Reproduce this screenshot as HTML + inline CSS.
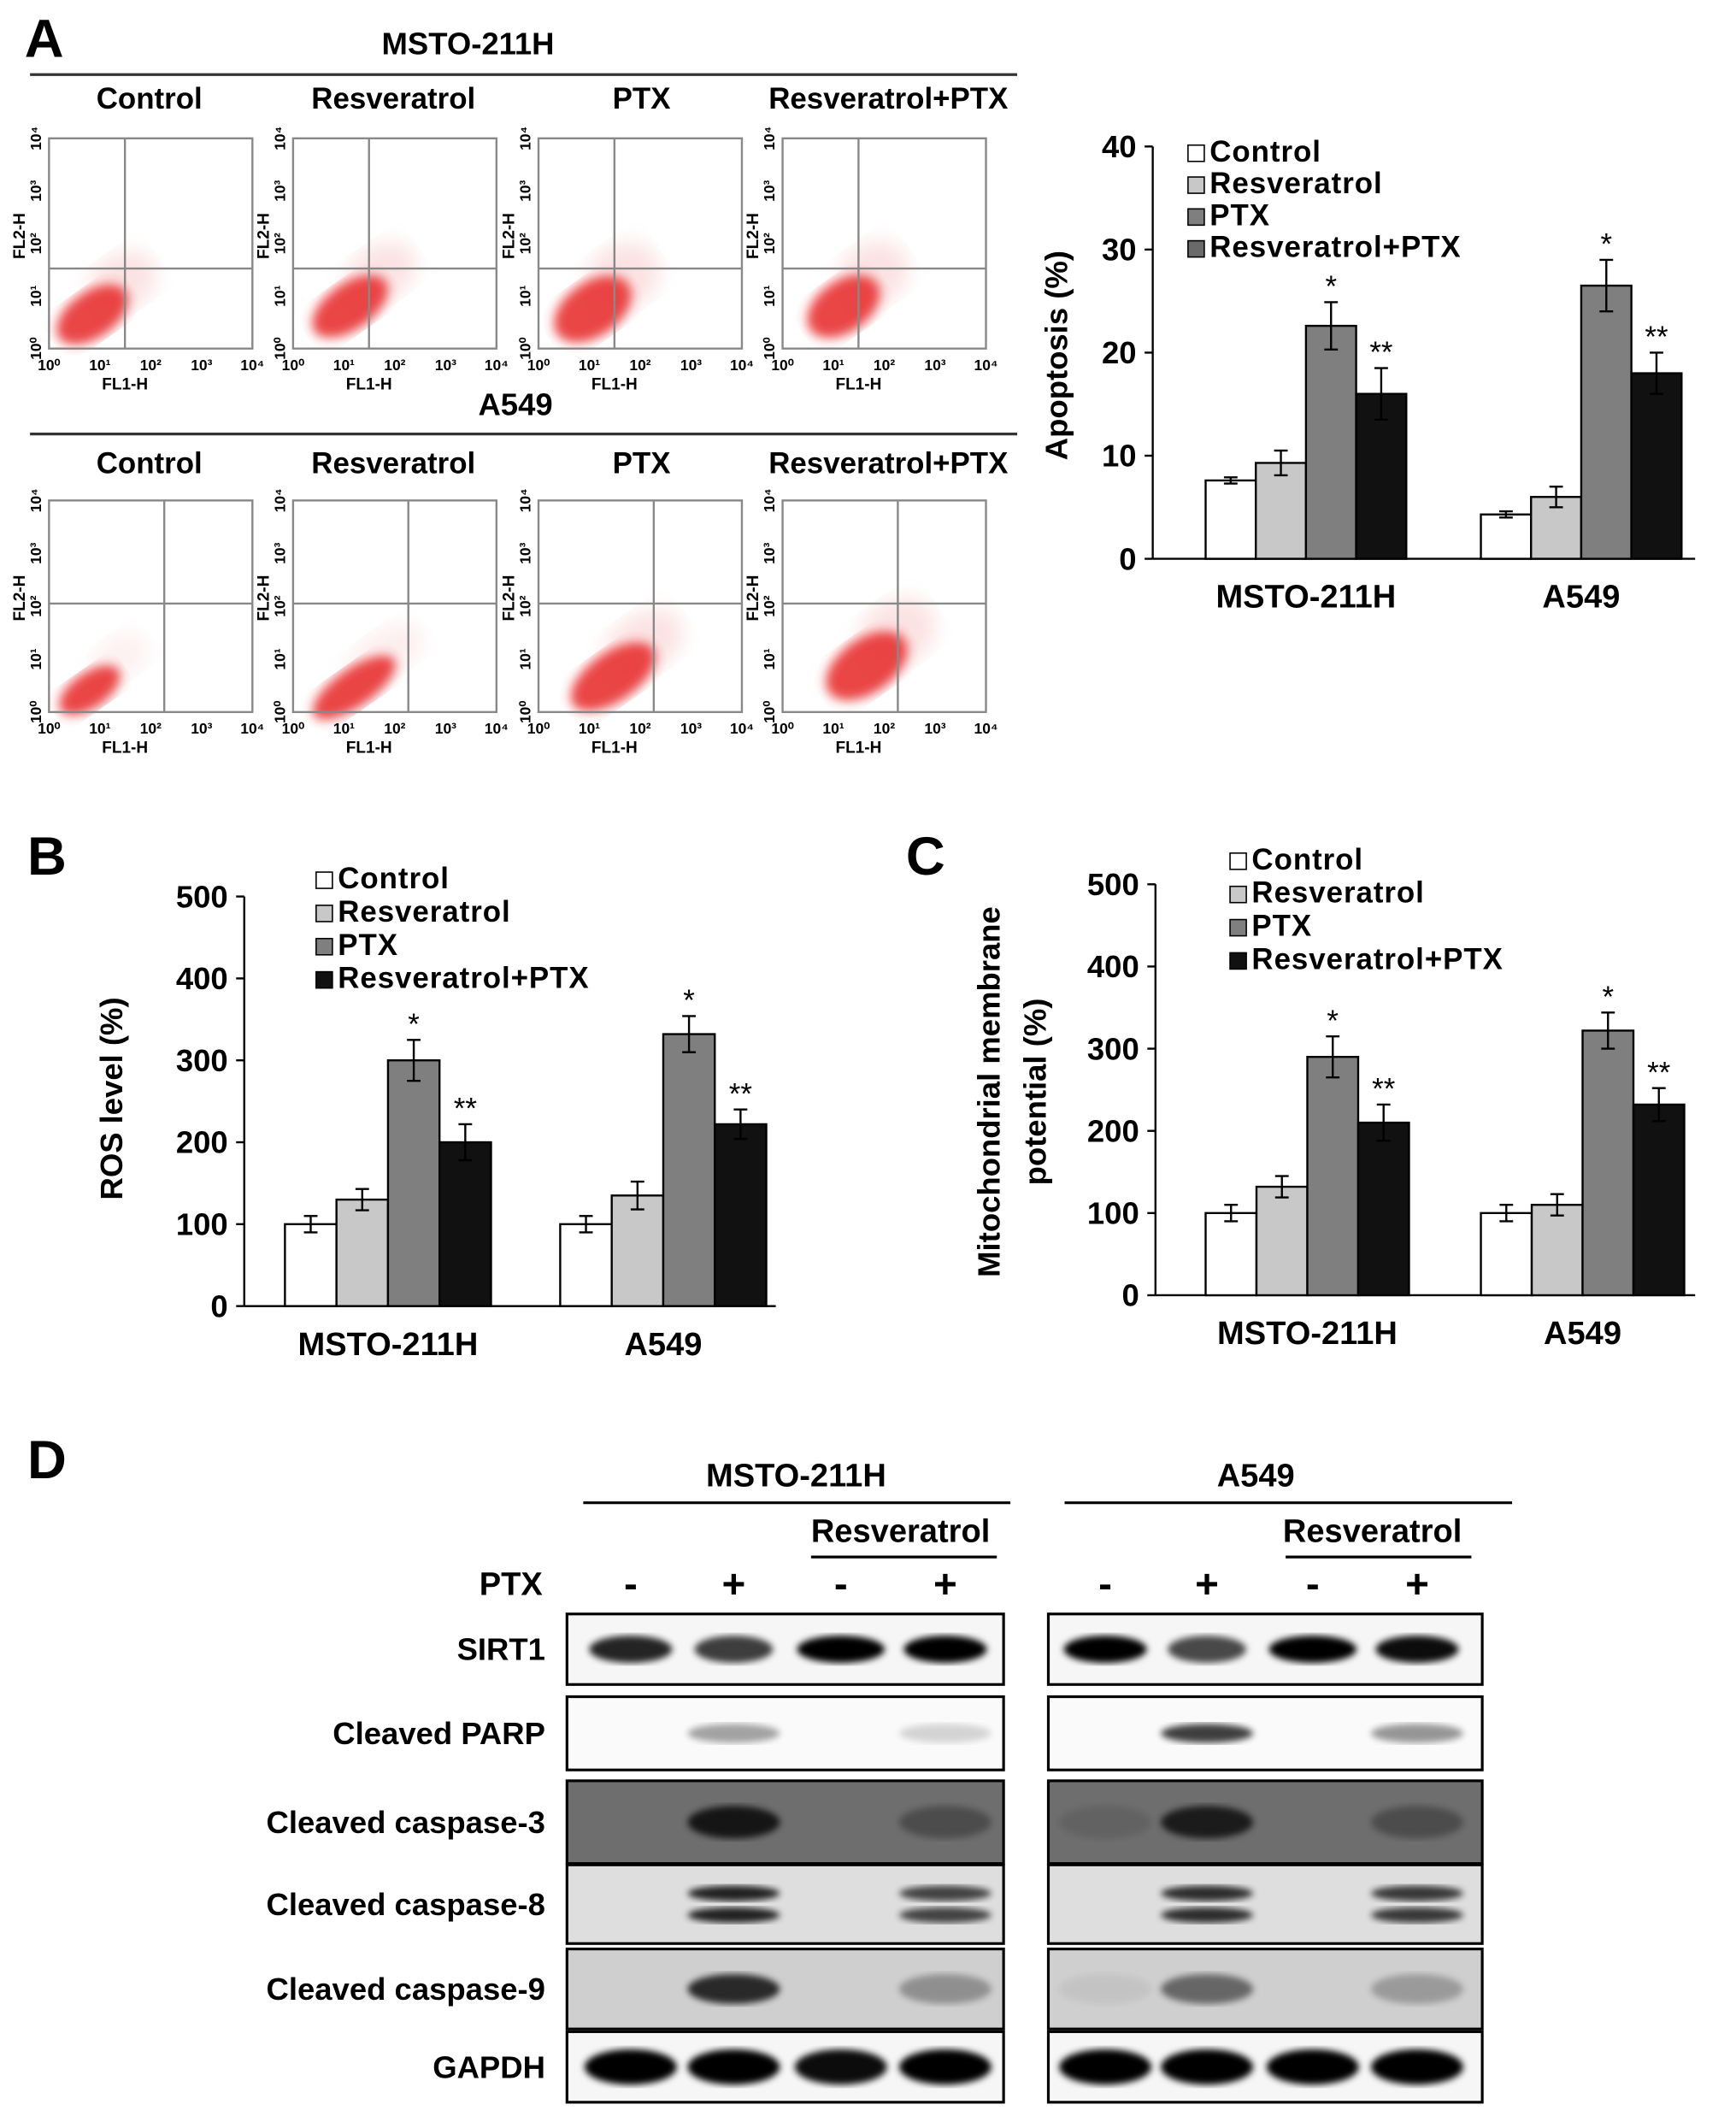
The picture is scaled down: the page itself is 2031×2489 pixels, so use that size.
<!DOCTYPE html>
<html><head><meta charset="utf-8"><style>
html,body{margin:0;padding:0;background:#fff}
svg{display:block}
text{font-family:"Liberation Sans",Arial,sans-serif}
</style></head><body>
<svg id="fig" width="2031" height="2489" viewBox="0 0 1280 1569" xmlns="http://www.w3.org/2000/svg">
<defs>
<filter id="bl2"><feGaussianBlur stdDeviation="2.5"/></filter>
<filter id="bl4"><feGaussianBlur stdDeviation="4"/></filter>
<filter id="bl8"><feGaussianBlur stdDeviation="7"/></filter>
</defs>
<g id="panelA"></g>
<g id="chartA"></g>
<g id="chartB"></g>
<g id="chartC"></g>
<g id="panelD"></g>
</svg>
<script>
// ---- Chart data ----
const groups = ["MSTO-211H", "A549"];
const seriesNames = ["Control", "Resveratrol", "PTX", "Resveratrol+PTX"];
const apoValues = [[7.6, 9.3, 22.6, 16.0], [4.3, 6.0, 26.5, 18.0]];
const apoErrors = [[0.3, 1.2, 2.3, 2.5], [0.3, 1.0, 2.5, 2.0]];
const apoTicks = [0, 10, 20, 30, 40];
const rosValues = [[100, 130, 300, 200], [100, 135, 332, 222]];
const rosErrors = [[10, 13, 25, 22], [10, 17, 22, 18]];
const rosTicks = [0, 100, 200, 300, 400, 500];
const mmpValues = [[100, 132, 290, 210], [100, 110, 322, 232]];
const mmpErrors = [[10, 13, 25, 22], [10, 13, 22, 20]];
const mmpTicks = [0, 100, 200, 300, 400, 500];
const starLabels = [["", "", "*", "**"], ["", "", "*", "**"]];

const NS = "http://www.w3.org/2000/svg";
function el(parent, tag, attrs, txt) {
  const e = document.createElementNS(NS, tag);
  for (const k in attrs) e.setAttribute(k, attrs[k]);
  if (txt !== undefined) e.textContent = txt;
  parent.appendChild(e);
  return e;
}
const fills = ["#ffffff", "#c8c8c8", "#7f7f7f", "#111111"];

function barChart(g, cfg) {
  const y = v => cfg.y0 - (v - 0) / cfg.max * (cfg.y0 - cfg.yTop);
  const ax = el(g, "line", {x1: cfg.ax, y1: cfg.yTop, x2: cfg.ax, y2: cfg.y0, stroke: "#000", "stroke-width": 1.5});
  
  
  const xa = el(g, "line", {x1: cfg.ax, y1: cfg.y0, x2: cfg.axEnd, y2: cfg.y0, stroke: "#000", "stroke-width": 1.5});
  
  
  cfg.ticks.forEach(t => {
    el(g, "line", {x1: cfg.ax - 6, y1: y(t), x2: cfg.ax, y2: y(t), stroke: "#000", "stroke-width": 1.5});
    const tl = el(g, "text", {x: cfg.ax - 12, y: y(t) + 8, "text-anchor": "end", "font-size": 23, "font-weight": "bold"}, t);
    
    
  });
  const yl = el(g, "text", {transform: `translate(${cfg.ylx},${cfg.yly}) rotate(-90)`, "text-anchor": "middle", "font-size": 23, "font-weight": "bold"});
  cfg.ylabel.forEach((line, i) => {
    el(yl, "tspan", {x: 0, dy: i === 0 ? 0 : 34}, line);
  });
  
  
  groups.forEach((gn, gi) => {
    cfg.values[gi].forEach((v, si) => {
      const x = cfg.gx[gi] + si * cfg.bw;
      const r = el(g, "rect", {x: x, y: y(v), width: cfg.bw, height: cfg.y0 - y(v), fill: fills[si], stroke: "#000", "stroke-width": 1.5});
      
      
      const cx = x + cfg.bw / 2, e = cfg.errors[gi][si];
      el(g, "line", {x1: cx, y1: y(v + e), x2: cx, y2: y(v - e), stroke: "#000", "stroke-width": 1.5});
      el(g, "line", {x1: cx - 5, y1: y(v + e), x2: cx + 5, y2: y(v + e), stroke: "#000", "stroke-width": 1.5});
      el(g, "line", {x1: cx - 5, y1: y(v - e), x2: cx + 5, y2: y(v - e), stroke: "#000", "stroke-width": 1.5});
      if (starLabels[gi][si]) {
        const st = el(g, "text", {x: cx, y: y(v + e) - 4, "text-anchor": "middle", "font-size": 22}, starLabels[gi][si]);
        
        
      }
    });
    const gl = el(g, "text", {x: cfg.gx[gi] + 2 * cfg.bw, y: cfg.y0 + 36, "text-anchor": "middle", "font-size": 24, "font-weight": "bold"}, gn);
    
    
  });
  seriesNames.forEach((n, i) => {
    const ly = cfg.legY + i * cfg.legDy;
    const lf = cfg.legFills ? cfg.legFills[i] : fills[i];
    const s = el(g, "rect", {x: cfg.legX, y: ly - 12, width: 12, height: 12, fill: lf, stroke: "#000", "stroke-width": 1});
    
    
    const t = el(g, "text", {x: cfg.legX + 16, y: ly, "font-size": 22, "font-weight": "bold", "letter-spacing": 0.6}, n);
    
    
  });
}

barChart(document.getElementById("chartA"), {ax: 850, axEnd: 1250, y0: 412, yTop: 108, max: 40, ticks: apoTicks,
  values: apoValues, errors: apoErrors, gx: [889, 1092], bw: 37, ylabel: ["Apoptosis (%)"], ylx: 787, yly: 262,
  legX: 876, legY: 119, legDy: 23.5, legFills: ["#fff", "#c8c8c8", "#7f7f7f", "#6a6a6a"]});
barChart(document.getElementById("chartB"), {ax: 180, axEnd: 572, y0: 963, yTop: 661, max: 500, ticks: rosTicks,
  values: rosValues, errors: rosErrors, gx: [210, 413], bw: 38, ylabel: ["ROS level (%)"], ylx: 90, yly: 810,
  legX: 233, legY: 655, legDy: 24.5});
barChart(document.getElementById("chartC"), {ax: 852, axEnd: 1250, y0: 955, yTop: 652, max: 500, ticks: mmpTicks,
  values: mmpValues, errors: mmpErrors, gx: [889, 1092], bw: 37.5, ylabel: ["Mitochondrial membrane", "potential (%)"], ylx: 737, yly: 805,
  legX: 907, legY: 641, legDy: 24.5});

[["A", 18, 42], ["B", 20, 645], ["C", 668, 645], ["D", 20, 1090]].forEach(p => {
  const t = el(document.getElementById("fig"), "text", {x: p[1], y: p[2], "font-size": 40, "font-weight": "bold"}, p[0]);
  
  
});

// ---- Panel A: flow cytometry plots ----
const pA = document.getElementById("panelA");
const colTitles = ["Control", "Resveratrol", "PTX", "Resveratrol+PTX"];
const boxX = [36, 216, 397, 577];
const rowsA = [
  {title: "MSTO-211H", ty: 40, lineY: 55, labY: 80, top: 102, bot: 257,
   quad: [[56, 96], [56, 96], [56, 96], [56, 96]], clouds: [[32, 130, 30, 17, 1], [42, 124, 32, 17, 1], [40, 126, 32, 20, 1], [45, 124, 30, 19, 1]]},
  {title: "A549", ty: 306, lineY: 320, labY: 349, top: 369, bot: 525,
   quad: [[85, 76], [85, 76], [85, 76], [85, 76]], clouds: [[30, 140, 26, 13, 0.5], [45, 138, 36, 14, 0.6], [55, 130, 36, 18, 1], [62, 122, 34, 20, 1]]}
];
const sup = ["10⁰", "10¹", "10²", "10³", "10⁴"];
rowsA.forEach((r, ri) => {
  const tt = el(pA, "text", {x: ri === 0 ? 345 : 380, y: r.ty, "text-anchor": "middle", "font-size": 23, "font-weight": "bold"}, r.title);
  
  
  el(pA, "line", {x1: 22, y1: r.lineY, x2: 750, y2: r.lineY, stroke: "#333", "stroke-width": 2});
  boxX.forEach((bx, ci) => {
    const w = 150, h = r.bot - r.top;
    const lab = el(pA, "text", {x: ci === 0 ? 110 : (ci === 1 ? 290 : (ci === 2 ? 473 : 655)), y: r.labY, "text-anchor": "middle", "font-size": 22, "font-weight": "bold"}, colTitles[ci]);
    
    
    const g = el(pA, "g", {});
    
    
    const c = r.clouds[ci];
    el(g, "ellipse", {cx: bx + c[0] + 22, cy: r.top + c[1] - 24, rx: c[2] * 0.9, ry: c[3] * 1.2, fill: "#f4a0a0", opacity: 0.3 * c[4], filter: "url(#bl8)", transform: `rotate(-35 ${bx + c[0] + 22} ${r.top + c[1] - 24})`});
    el(g, "ellipse", {cx: bx + c[0], cy: r.top + c[1], rx: c[2], ry: c[3], fill: "#e83030", opacity: 0.9, filter: "url(#bl4)", transform: `rotate(-35 ${bx + c[0]} ${r.top + c[1]})`});
    el(g, "rect", {x: bx, y: r.top, width: w, height: h, fill: "none", stroke: "#888", "stroke-width": 1.5});
    el(g, "line", {x1: bx + r.quad[ci][0], y1: r.top, x2: bx + r.quad[ci][0], y2: r.bot, stroke: "#888", "stroke-width": 1.5});
    el(g, "line", {x1: bx, y1: r.top + r.quad[ci][1], x2: bx + w, y2: r.top + r.quad[ci][1], stroke: "#888", "stroke-width": 1.5});
    for (let k = 0; k < 5; k++) {
      el(g, "text", {x: bx + k * w / 4, y: r.bot + 16, "text-anchor": "middle", "font-size": 11, "font-weight": "bold"}, sup[k]);
      el(g, "text", {transform: `translate(${bx - 6},${r.bot - k * h / 4}) rotate(-90)`, "text-anchor": "middle", "font-size": 11, "font-weight": "bold"}, sup[k]);
    }
    el(g, "text", {x: bx + 56, y: r.bot + 30, "text-anchor": "middle", "font-size": 12, "font-weight": "bold"}, "FL1-H");
    el(g, "text", {transform: `translate(${bx - 18},${r.top + 72}) rotate(-90)`, "text-anchor": "middle", "font-size": 12, "font-weight": "bold"}, "FL2-H");
  });
});

// ---- Panel D: western blots ----
const pD = document.getElementById("panelD");
function dtext(x, y, s, anchor, size, name) {
  const t = el(pD, "text", {x: x, y: y, "text-anchor": anchor, "font-size": size, "font-weight": "bold"}, s);
  
  
}
dtext(587, 1096, "MSTO-211H", "middle", 24, "cell-line-header");
dtext(926, 1096, "A549", "middle", 24, "cell-line-header");
el(pD, "line", {x1: 430, y1: 1108, x2: 745, y2: 1108, stroke: "#000", "stroke-width": 2});
el(pD, "line", {x1: 785, y1: 1108, x2: 1115, y2: 1108, stroke: "#000", "stroke-width": 2});
dtext(664, 1137, "Resveratrol", "middle", 24, "resveratrol-header");
dtext(1012, 1137, "Resveratrol", "middle", 24, "resveratrol-header");
el(pD, "line", {x1: 598, y1: 1148, x2: 735, y2: 1148, stroke: "#000", "stroke-width": 2});
el(pD, "line", {x1: 948, y1: 1148, x2: 1085, y2: 1148, stroke: "#000", "stroke-width": 2});
dtext(400, 1176, "PTX", "end", 24, "ptx-label");
const lanesL = [465, 541, 620, 697], lanesR = [815, 890, 968, 1045];
const pm = ["-", "+", "-", "+"];
lanesL.concat(lanesR).forEach((x, i) => dtext(x, 1178, pm[i % 4], "middle", 30, "ptx-sign"));
const blotRows = [
  {name: "SIRT1", top: 1190, bot: 1242, bg: "#f6f6f6", bands: [[0.85, 0.75, 1, 1], [1, 0.7, 1, 0.95]], h: 10, bw: [0.9, 0.85, 0.95, 0.9]},
  {name: "Cleaved PARP", top: 1251, bot: 1305, bg: "#fafafa", bands: [[0, 0.35, 0, 0.15], [0, 0.75, 0, 0.4]], h: 7, bw: [1, 1, 1, 1]},
  {name: "Cleaved caspase-3", top: 1313, bot: 1374, bg: "#6e6e6e", bands: [[0, 0.8, 0, 0.3], [0.1, 0.75, 0, 0.3]], h: 12, bw: [1, 1, 1, 1]},
  {name: "Cleaved caspase-8", top: 1375, bot: 1433, bg: "#dedede", bands: [[0, 0.85, 0, 0.7], [0, 0.8, 0, 0.75]], h: 8, bw: [1, 1, 1, 1], dbl: true},
  {name: "Cleaved caspase-9", top: 1437, bot: 1496, bg: "#cfcfcf", bands: [[0, 0.8, 0, 0.3], [0.05, 0.5, 0, 0.25]], h: 11, bw: [1, 1, 1, 1]},
  {name: "GAPDH", top: 1498, bot: 1550, bg: "#f6f6f6", bands: [[1, 1, 0.95, 1], [1, 1, 1, 1]], h: 13, bw: [1, 1, 1, 1]}
];
blotRows.forEach(b => {
  const cy = (b.top + b.bot) / 2;
  const lbl = el(pD, "text", {x: 402, y: cy + 8, "text-anchor": "end", "font-size": 23, "font-weight": "bold"}, b.name);
  
  
  [[418, 740, lanesL, 0], [773, 1093, lanesR, 1]].forEach(side => {
    const g = el(pD, "g", {});
    
    
    el(g, "rect", {x: side[0], y: b.top, width: side[1] - side[0], height: b.bot - b.top, fill: b.bg});
    side[2].forEach((lx, li) => {
      const a = b.bands[side[3]][li];
      if (a <= 0) return;
      const ys = b.dbl ? [cy - 8, cy + 8] : [cy];
      ys.forEach(yy => el(g, "ellipse", {cx: lx, cy: yy, rx: 34 * b.bw[li], ry: b.h / (b.dbl ? 1.4 : 1), fill: "#000", opacity: a, filter: "url(#bl2)"}));
    });
    el(g, "rect", {x: side[0], y: b.top, width: side[1] - side[0], height: b.bot - b.top, fill: "none", stroke: "#000", "stroke-width": 2});
  });
});
</script>
</body></html>
